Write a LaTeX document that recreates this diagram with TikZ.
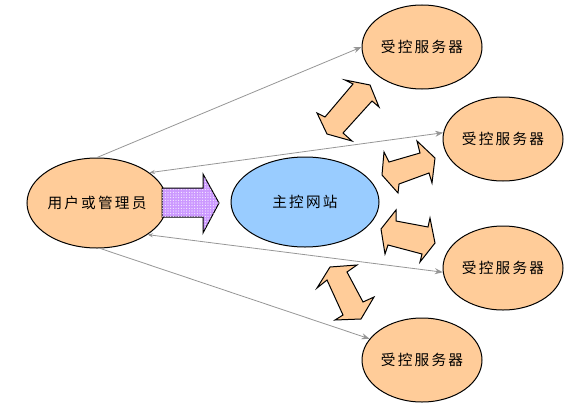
\documentclass[tikz,border=0pt]{standalone}
\usepackage{fontspec}
\newfontfamily\cjk[LetterSpace=15]{Noto Sans CJK SC}
\usetikzlibrary{shapes.geometric,arrows.meta,patterns.meta}

\tikzset{every picture/.style={line width=0.75pt}}
\tikzset{
  peachell/.style={draw, ellipse, fill={rgb,255:red,255;green,204;blue,153}, inner sep=0pt,
    font=\cjk\fontsize{11}{13}\selectfont},
  bluell/.style={draw, ellipse, fill={rgb,255:red,153;green,204;blue,255}, inner sep=0pt,
    font=\cjk\fontsize{11}{13}\selectfont},
  srvell/.style={peachell, minimum width=90pt, minimum height=63pt},
  link/.style={draw={rgb,255:red,150;green,150;blue,150}, line width=0.6pt,
    -{Stealth[length=6pt,width=4.5pt]}},
  dbllink/.style={link, {Stealth[length=4pt,width=3pt]}-{Stealth[length=6pt,width=4.5pt]}},
  dblarrow/.style={draw, line width=0.75pt, line join=miter, fill={rgb,255:red,255;green,204;blue,153}},
  bigarrow/.style={draw, line width=0.75pt, fill={rgb,255:red,204;green,153;blue,255},
    postaction={pattern={Dots[distance=2pt,radius=0.4pt]}, pattern color=white}}
}

\begin{document}
\begin{tikzpicture}[x=0.75pt,y=0.75pt,yscale=-1,xscale=1]
\useasboundingbox (0,0) rectangle (566,403);

% Ellipses
\node [peachell, minimum width=97.5pt, minimum height=67.5pt] (user) at (97,203) {用户或管理员};
\node [bluell, minimum width=111pt, minimum height=67.5pt] (site) at (305,202) {主控网站};
\node [srvell] (srvA) at (422,47) {受控服务器};
\node [srvell] (srvB) at (503,139) {受控服务器};
\node [srvell] (srvC) at (503,268) {受控服务器};
\node [srvell] (srvD) at (422,360) {受控服务器};

% Links from user to servers
\draw [link] (user.north) -- (srvA.west);
\draw [dbllink] (user.30) -- (srvB.174);
\draw [dbllink] (user.-32) -- (srvC.184);
\draw [link] (user.-86) -- (srvD.158);

% Big arrow: user to site
\draw [bigarrow] (162,188) -- (203,188) -- (203,174) -- (219,203) -- (203,233) -- (203,217) -- (162,217) -- cycle;

% Double arrows: site to servers
\draw [dblarrow] (353,84) -- (345,80) -- (370,85) -- (379,107) -- (372,101) -- (343,133) -- (352,141) -- (327,134) -- (317,113) -- (325,117) -- cycle;
\draw [dblarrow] (384,152) -- (389,162) -- (420,153) -- (417,141) -- (435,158) -- (432,183) -- (429,173) -- (399,184) -- (398,193) -- (382,175) -- cycle;
\draw [dblarrow] (396,210) -- (396,221) -- (428,227) -- (430,218) -- (435,243) -- (420,262) -- (422,254) -- (388,245) -- (385,254) -- (381,229) -- cycle;
\draw [dblarrow] (330,267) -- (357,265) -- (347,272) -- (363,302) -- (374,297) -- (361,319) -- (335,320) -- (343,315) -- (327,280) -- (317,288) -- cycle;

\end{tikzpicture}
\end{document}
